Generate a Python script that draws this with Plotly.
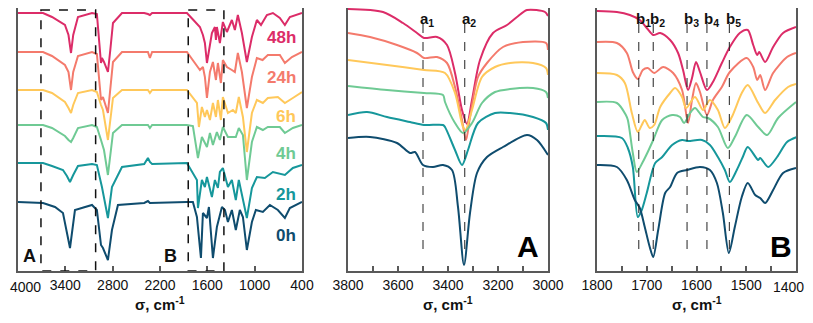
import plotly.graph_objects as go

FONT = "Arial, 'Liberation Sans', sans-serif"
AXIS = "#595959"

SERIES = ["48h", "24h", "6h", "4h", "2h", "0h"]
COLOURS = {
    "48h": "#dc2c68", "24h": "#f47a6c", "6h": "#ffc85a",
    "4h": "#6fca94", "2h": "#16979b", "0h": "#0f4c6e",
}

# ---- full range spectra (4000-400 cm-1), offset units (larger = lower on page)
FULL_48H = [(4000,13),(3683,13),(3569,17),(3468,22),(3405,25),(3360,35),(3328,53),(3300,35),(3240,17),
            (3062,13),(3000,14),(2948,63),(2936,58),(2910,62),(2860,72),(2830,50),(2796,23),(2682,13),
            (2400,13),(2353,14),(2328,15),(2300,13),(1859,13),(1800,18),(1694,27),(1656,35),(1631,43),
            (1605,63),(1580,50),(1567,43),(1542,33),(1504,27),(1491,40),(1479,27),(1441,43),(1403,22),
            (1352,32),(1289,20),(1251,30),(1213,15),(1162,33),(1099,62),(1035,37),(972,20),(920,25),
            (845,15),(769,13),(681,18),(617,25),(554,17),(400,13)]
FULL_24H = [(4000,52),(3683,52),(3569,56),(3468,62),(3405,65),(3360,72),(3328,90),(3300,72),(3240,56),
            (3062,52),(3000,54),(2948,100),(2923,97),(2860,113),(2830,90),(2796,62),(2682,52),(2353,52),
            (2328,58),(2300,52),(1859,52),(1732,65),(1694,70),(1656,67),(1631,77),(1605,98),(1567,72),
            (1529,62),(1491,80),(1466,63),(1428,83),(1403,60),(1352,67),(1289,70),(1251,72),(1213,53),
            (1162,72),(1099,108),(1035,77),(972,58),(900,60),(833,55),(681,55),(617,63),(528,57),(400,52)]
FULL_6H = [(4000,90),(3683,90),(3569,93),(3468,98),(3405,102),(3360,108),(3328,113),(3300,105),(3240,93),
           (3062,90),(3000,92),(2948,105),(2923,110),(2860,140),(2830,120),(2796,98),(2682,90),(2353,90),
           (2328,93),(2300,90),(1859,90),(1732,103),(1707,127),(1669,107),(1631,117),(1605,110),(1567,120),
           (1529,103),(1491,117),(1466,100),(1428,120),(1403,97),(1339,113),(1276,110),(1239,113),
           (1201,97),(1149,117),(1099,152),(1035,113),(972,100),(896,103),(833,98),(706,97),(617,103),
           (516,98),(400,92)]
FULL_4H = [(4000,125),(3683,125),(3569,128),(3468,133),(3405,136),(3360,140),(3328,142),(3300,138),
           (3240,128),(3062,125),(3000,127),(2948,140),(2910,150),(2860,175),(2830,155),(2796,133),
           (2682,125),(2353,125),(2328,128),(2300,125),(1859,125),(1783,126),(1719,158),(1669,137),
           (1605,147),(1567,133),(1529,145),(1479,132),(1441,140),(1403,127),(1339,137),(1239,137),
           (1201,128),(1149,135),(1099,180),(1035,142),(972,127),(896,130),(833,127),(681,127),(617,133),
           (516,128),(400,125)]
FULL_2H = [(4000,163),(3683,163),(3569,166),(3430,170),(3380,176),(3341,182),(3300,175),(3240,166),
           (3062,164),(3000,165),(2936,187),(2860,218),(2809,187),(2682,167),(2400,164),(2353,158),
           (2328,162),(2300,164),(1859,163),(1732,180),(1719,208),(1669,180),(1631,187),(1605,177),
           (1542,197),(1504,180),(1466,188),(1441,172),(1403,168),(1339,187),(1289,180),(1239,200),
           (1201,180),(1099,218),(1035,188),(972,177),(871,178),(769,172),(617,175),(516,168),(400,165)]
FULL_0H = [(4000,202),(3683,203),(3531,207),(3430,213),(3341,248),(3278,210),(3062,205),(3000,210),
           (2948,245),(2923,248),(2860,260),(2809,230),(2733,205),(2400,203),(2353,201),(2328,203),
           (1859,202),(1783,202),(1732,217),(1681,258),(1656,213),(1605,218),(1580,207),(1529,258),
           (1479,227),(1453,218),(1415,207),(1377,210),(1339,222),(1289,210),(1239,230),(1188,210),
           (1149,217),(1099,250),(1035,222),(985,210),(896,212),(807,205),(706,210),(617,218),(554,208),
           (400,202)]

# ---- region A (3800-3000 cm-1)
A_48H = [(3800,9),(3660,12),(3580,23),(3524,33),(3496,38),(3444,37),(3404,45),(3372,73),(3344,110),
         (3324,124),(3304,100),(3272,60),(3220,33),(3164,25),(3124,17),(3084,10),(3012,12),(3000,16)]
A_24H = [(3800,33),(3712,37),(3604,45),(3524,53),(3496,58),(3444,57),(3404,63),(3372,87),(3344,120),
         (3328,140),(3312,117),(3280,77),(3244,63),(3180,47),(3100,42),(3008,43),(3000,50)]
A_6H = [(3800,60),(3644,65),(3496,70),(3412,73),(3372,93),(3340,127),(3330,130),(3304,110),(3264,77),
        (3212,67),(3152,63),(3060,63),(3008,68),(3000,75)]
A_4H = [(3800,86),(3644,90),(3496,93),(3420,95),(3412,102),(3372,123),(3340,133),(3304,123),(3264,103),
        (3212,92),(3152,89),(3060,88),(3008,92),(3000,98)]
A_2H = [(3800,115),(3724,112),(3644,117),(3552,122),(3496,125),(3420,125),(3412,127),(3372,150),
        (3344,165),(3320,150),(3280,123),(3212,113),(3152,113),(3060,117),(3008,123),(3000,130)]
A_0H = [(3800,138),(3712,137),(3604,143),(3552,153),(3532,152),(3500,165),(3460,167),(3420,165),
        (3384,170),(3360,207),(3336,265),(3312,213),(3284,173),(3244,157),(3180,147),(3084,135),
        (3044,140),(3000,155)]

# ---- region B (1800-1400 cm-1)
B_48H = [(1800,11),(1760,12),(1734,15),(1714,20),(1700,28),(1687,35),(1673,33),(1653,40),(1637,53),
         (1627,70),(1617,90),(1609,78),(1601,62),(1593,72),(1579,90),(1567,82),(1549,63),(1533,47),
         (1513,33),(1497,30),(1486,45),(1478,55),(1474,52),(1462,62),(1446,47),(1426,33),(1400,27)]
B_24H = [(1800,42),(1760,43),(1740,53),(1728,72),(1718,79),(1708,70),(1698,68),(1685,73),(1667,67),
         (1647,73),(1629,90),(1617,123),(1609,100),(1601,83),(1593,92),(1579,115),(1567,100),(1549,87),
         (1533,72),(1499,58),(1486,67),(1478,80),(1472,75),(1462,90),(1446,73),(1418,57),(1400,53)]
B_6H = [(1800,73),(1760,75),(1744,83),(1730,113),(1718,132),(1710,125),(1704,120),(1694,128),(1685,125),
        (1673,107),(1653,93),(1643,88),(1629,97),(1621,108),(1603,97),(1587,110),(1573,100),(1557,110),
        (1543,128),(1529,117),(1509,93),(1497,85),(1476,103),(1462,113),(1442,100),(1416,87),(1400,84)]
B_4H = [(1800,102),(1760,103),(1742,115),(1738,120),(1728,153),(1720,172),(1708,162),(1698,152),
        (1687,140),(1669,120),(1649,115),(1633,117),(1625,123),(1613,113),(1603,108),(1587,117),
        (1577,118),(1557,127),(1537,148),(1523,137),(1499,115),(1476,127),(1458,135),(1436,118),(1400,102)]
B_2H = [(1800,136),(1750,138),(1738,148),(1728,167),(1718,217),(1710,210),(1700,193),(1683,163),
        (1669,157),(1649,145),(1629,140),(1617,141),(1589,140),(1573,145),(1557,157),(1543,170),
        (1533,182),(1519,170),(1507,157),(1497,147),(1476,160),(1472,158),(1456,167),(1438,157),
        (1418,142),(1398,137)]
B_0H = [(1800,165),(1760,167),(1740,180),(1724,200),(1714,208),(1704,227),(1694,247),(1687,257),
        (1677,230),(1663,193),(1653,187),(1639,173),(1619,170),(1593,167),(1573,170),(1559,183),
        (1547,213),(1535,253),(1523,227),(1509,197),(1497,183),(1482,195),(1472,198),(1462,203),
        (1446,190),(1426,173),(1400,168)]

PANELS = [
    ("x", "y", [FULL_48H, FULL_24H, FULL_6H, FULL_4H, FULL_2H, FULL_0H], "linear"),
    ("x2", "y2", [A_48H, A_24H, A_6H, A_4H, A_2H, A_0H], "spline"),
    ("x3", "y3", [B_48H, B_24H, B_6H, B_4H, B_2H, B_0H], "spline"),
]

LABEL_Y = [37, 77, 116, 153, 194, 235]

A_LINES = [(3500, "a<sub>1</sub>"), (3333, "a<sub>2</sub>")]
B_LINES = [(1716, "b<sub>1</sub>"), (1687, "b<sub>2</sub>"), (1619, "b<sub>3</sub>"),
           (1579, "b<sub>4</sub>"), (1534, "b<sub>5</sub>")]

BOX_A = (3709, 3016)
BOX_B = (1842, 1390)

fig = go.Figure()

for xa, ya, specs, shape in PANELS:
    for name, spec in zip(SERIES, specs):
        fig.add_trace(go.Scatter(
            x=[p[0] for p in spec], y=[p[1] for p in spec],
            mode="lines", xaxis=xa, yaxis=ya, showlegend=False,
            line=dict(color=COLOURS[name], width=2, shape=shape, smoothing=0.8),
        ))

# series labels in panel 1
for name, yv in zip(SERIES, LABEL_Y):
    fig.add_annotation(x=450, y=yv, xref="x", yref="y", text=f"<b>{name}</b>",
                       showarrow=False, xanchor="right", yanchor="middle",
                       font=dict(size=17, color=COLOURS[name], family=FONT))

# dashed boxes in panel 1
for x0, x1 in (BOX_A, BOX_B):
    fig.add_shape(type="rect", xref="x", yref="y", x0=x0, x1=x1, y0=10, y1=271,
                  line=dict(color="#111111", width=1.5, dash="dash"))

fig.add_annotation(x=3860, y=256, xref="x", yref="y", text="<b>A</b>", showarrow=False,
                   font=dict(size=18, color="#111111", family=FONT))
fig.add_annotation(x=2070, y=256, xref="x", yref="y", text="<b>B</b>", showarrow=False,
                   font=dict(size=18, color="#111111", family=FONT))

# marker lines
for xa, ya, lines in (("x2", "y2", A_LINES), ("x3", "y3", B_LINES)):
    for xv, lab in lines:
        fig.add_shape(type="line", xref=xa, yref=ya, x0=xv, x1=xv, y0=24, y1=255,
                      line=dict(color="#222222", width=1, dash="dash"))
        fig.add_annotation(x=xv, y=19, xref=xa, yref=ya, text=f"<b>{lab}</b>",
                           showarrow=False, xanchor="left", xshift=-5,
                           font=dict(size=15, color="#111111", family=FONT))

fig.add_annotation(x=3080, y=246, xref="x2", yref="y2", text="<b>A</b>", showarrow=False,
                   font=dict(size=30, color="#000000", family=FONT))
fig.add_annotation(x=1430, y=246, xref="x3", yref="y3", text="<b>B</b>", showarrow=False,
                   font=dict(size=30, color="#000000", family=FONT))

# page body has an 8 px margin: the figure is 805 x 307, plot areas end 263 px down
W, H = 805, 307
PLOT_H = 263

# axis titles placed as annotations below each panel
for xa in ("x", "x2", "x3"):
    fig.add_annotation(x=0.5, y=-32 / PLOT_H, xref=f"{xa} domain", yref="paper",
                       text="<b>σ, cm<sup>-1</sup></b>", showarrow=False, yanchor="middle",
                       font=dict(size=15, color="#111111", family=FONT))

# end tick labels would run past the page edges, so they are drawn flush with it
fig.add_annotation(x=0, y=-16 / PLOT_H, xref="paper", yref="paper", text="4000",
                   showarrow=False, xanchor="left", yanchor="middle",
                   font=dict(size=14, color="#111111", family=FONT))
fig.add_annotation(x=798 / W, y=-16 / PLOT_H, xref="paper", yref="paper", text="1400",
                   showarrow=False, xanchor="right", yanchor="middle",
                   font=dict(size=14, color="#111111", family=FONT))

xbase = dict(showline=True, linecolor=AXIS, linewidth=1.5, mirror=True, ticks="inside",
             ticklen=5, tickwidth=1.5, tickcolor=AXIS, showgrid=False, zeroline=False,
             automargin=False, ticklabelstandoff=0,
             tickfont=dict(size=14, color="#111111", family=FONT))
ybase = dict(showline=True, linecolor=AXIS, linewidth=1.5, mirror=True, ticks="",
             showticklabels=False, showgrid=False, zeroline=False, range=[271, 8],
             automargin=False)

t1 = [4000, 3400, 2800, 2200, 1600, 1000, 400]
t2 = list(range(3000, 3801, 100))
t3 = list(range(1400, 1801, 50))

fig.update_layout(
    width=W, height=H,
    margin=dict(l=0, r=0, t=0, b=H - PLOT_H),
    paper_bgcolor="white", plot_bgcolor="white",
    font=dict(family=FONT),
    xaxis=dict(**xbase, domain=[10/W, 294/W], range=[4000, 400],
               tickvals=t1, ticktext=["" if v == 4000 else str(v) for v in t1]),
    xaxis2=dict(**xbase, domain=[340/W, 540/W], range=[3800, 3000],
                tickvals=t2, ticktext=[str(v) if v % 200 == 0 else "" for v in t2]),
    xaxis3=dict(**xbase, domain=[589/W, 788/W], range=[1800, 1400],
                tickvals=t3, ticktext=[str(v) if (v % 100 == 0 and v != 1400) else "" for v in t3]),
    yaxis=dict(**ybase, anchor="x"),
    yaxis2=dict(**ybase, anchor="x2"),
    yaxis3=dict(**ybase, anchor="x3"),
)

fig.write_html("out.html")
